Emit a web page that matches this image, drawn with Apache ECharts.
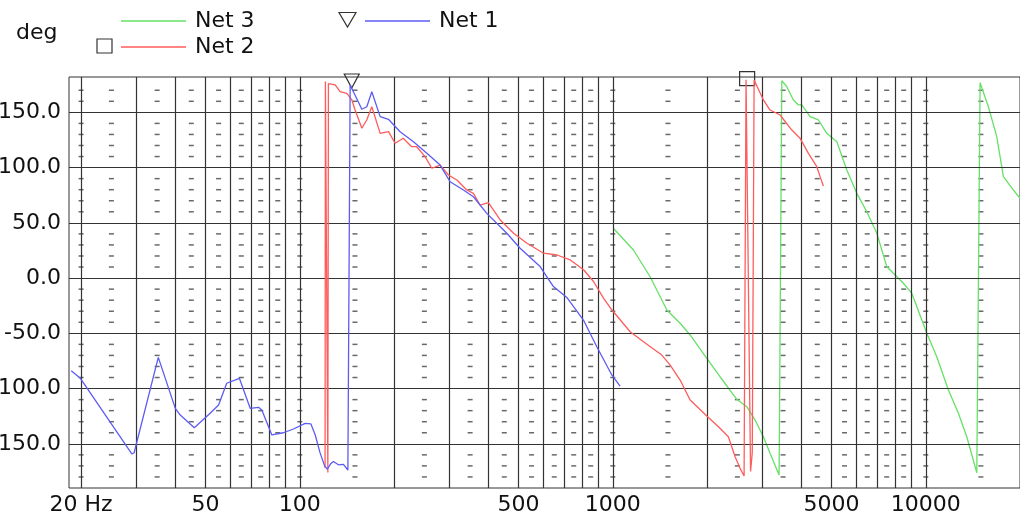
<!DOCTYPE html>
<html><head><meta charset="utf-8">
<script src="https://cdn.jsdelivr.net/npm/echarts@6/dist/echarts.min.js"></script>
<style>html,body{margin:0;padding:0;background:#fff}#c{width:1020px;height:522px}</style>
</head><body><div id="c"></div>
<script>
// ---- data ----
const net1Freq = [18.6,19.9,29.05,29.55,35.3,40,41.5,46,51.7,55,58.4,64.1,69.4,73.8,75.6,81.4,88.6,95.4,104,108.5,112,116,120,122.5,125.5,128,132.8,137.8,142.4,143.2,144.8,148.3,157.8,163.7,169.8,180.6,191.9,209.1,230.7,254.6,280.7,302.1,333.2,358.6,395.7,458.5,505.6,585.7,646,712.8,805.7,889,992.7,1055];
const net1Deg  = [-83.8,-90.7,-159.2,-158.1,-71.8,-117.9,-124,-135.5,-122.4,-114.9,-95.2,-90.7,-117.9,-117,-119.4,-142,-140,-136.6,-131.5,-132,-142,-158,-170,-173,-168,-166,-169,-168.6,-173.7,-174,174.8,168.7,152.8,155.1,168.7,146.1,143.7,132.5,123.4,112.9,102.3,87.2,79.7,73.6,58.6,40.6,27,10.4,-7.7,-17.5,-38,-62.1,-87.7,-97.7];

const net2Freq = [120.4,120.7,121.8,122.9,123.4,129.7,134.5,141.3,146.6,150.2,157.8,163.6,169.8,180.6,192,201.6,214,227.6,236.3,251.3,264,280.7,298.4,317.5,341.5,358.6,376.7,400.5,436.7,482,531.8,600.5,663.2,731.4,807.7,868.8,934.5,994,1136,1253,1434,1525,1641,1766,1997,2175,2340,2459,2551,2627,2665,2755,2790,2828,3028,3180,3423,3732,3967,4217,4485,4595,4708];
const net2Deg  = [-172,178,179,-176,176,174.8,168.7,167.2,161.2,152.1,135.6,143.1,155.1,131,132.5,122,126.5,118.9,118.9,109.9,99.4,102.3,93.3,88.8,79.7,76.7,66.1,68.2,52.6,40.6,31.5,22.5,20.9,16.4,7.3,-3.3,-18.3,-28.9,-48.6,-57.6,-69.7,-78.8,-92.3,-110.4,-124.9,-134.5,-143.6,-161.7,-172.2,-179.2,179.5,-175,-158,179.3,161.2,152.1,147.6,134,126.5,112.9,100.8,91.8,83.3];

const net3Freq = [1004,1164,1316,1488,1641,1766,1997,2201,2490,2680,2849,3028,3180,3399,3467,3597,3776,3917,4017,4270,4539,4828,5196,5593,6020,6479,6976,7508,7879,8481,9022,10074,10842,11809,12712,13521,14555,14913,15849,16857,17700,19055,20000];
const net3Deg  = [45.1,25.4,1.2,-28.9,-40.9,-51.5,-72.6,-89.3,-109.7,-116.4,-128.5,-143.6,-158.6,-178.2,178.7,173.2,161.2,156.7,156.7,146.1,143.1,131,123.5,97.8,76.7,60.1,40.5,10.3,4.3,-4.7,-13.8,-50,-71.2,-101.3,-122.4,-143.6,-176.2,176.8,155.1,128,91.8,79.7,72.2];

// cursor markers [freq, deg]
const net1Marker = [146.5, 178.4];
const net2Marker = [2686, 180.6];

// axis ticks / grid
const freqGrid = [20,30,40,50,60,70,80,90,100,200,300,400,500,600,700,800,900,1000,2000,3000,4000,5000,6000,7000,8000,9000,10000];
const freqLabels = [20,50,100,500,1000,5000,10000];
const freqLabelText = ['20 Hz','50','100','500','1000','5000','10000'];
const degGrid = [-150,-100,-50,0,50,100,150];
const dashCols = [20,25,35,45,55,65,75,85,100,150,250,350,450,550,650,750,850,1000,1500,2500,3500,4500,5500,6500,7500,8500,10000,15000];
const dashRows = [-180,-170,-160,-140,-130,-120,-110,-90,-80,-70,-60,-40,-30,-20,-10,10,20,30,40,60,70,80,90,110,120,130,140,160,170];

// ---- build ----
const FONT = 'DejaVu Sans';
const zip = (a, b) => a.map((v, i) => [v, b[i]]);
const dashData = [];
dashCols.forEach(c => dashRows.forEach(r => dashData.push([c, r])));

const labelStyle = { show: true, position: 'start', distance: 6, fontFamily: FONT, fontSize: 22, color: '#111' };
const lineItems = freqGrid.map(f => {
  const i = freqLabels.indexOf(f);
  return i < 0 ? { xAxis: f } : { xAxis: f, label: Object.assign({ formatter: freqLabelText[i] }, labelStyle) };
}).concat(degGrid.map(d => ({ yAxis: d })));

const legendText = { fontFamily: FONT, fontSize: 22, color: '#111', padding: [0, 0, 0, 4] };
const mkLegend = (name, left, top) => ({
  data: [name], left: left, top: top, icon: 'rect', itemWidth: 65, itemHeight: 1.6, padding: 0,
  selectedMode: false, textStyle: legendText
});

const chart = echarts.init(document.getElementById('c'), null, { renderer: 'canvas' });
chart.setOption({
  animation: false,
  backgroundColor: '#fff',
  grid: { left: 69, top: 77, right: 0, height: 411, show: true, borderColor: '#333', borderWidth: 1, outerBoundsMode: 'none' },
  legend: [mkLegend('Net 3', 121, 10), mkLegend('Net 2', 121, 36), mkLegend('Net 1', 365, 10)],
  graphic: [
    { type: 'text', left: 16, top: 22, style: { text: 'deg', fontFamily: FONT, fontSize: 22, fill: '#111' } },
    { type: 'rect', shape: { x: 97, y: 39, width: 15, height: 14 }, style: { fill: 'none', stroke: '#333', lineWidth: 1.2 } },
    { type: 'polygon', shape: { points: [[339, 12.5], [356, 12.5], [347.5, 27]] }, style: { fill: 'none', stroke: '#333', lineWidth: 1.2 } }
  ],
  xAxis: {
    type: 'log', logBase: 10, min: 18.3, max: 20000,
    axisLine: { show: false }, axisTick: { show: false }, axisLabel: { show: false }, splitLine: { show: false }
  },
  yAxis: {
    type: 'value', min: -190, max: 182, interval: 10,
    axisLine: { show: false }, axisTick: { show: false }, splitLine: { show: false },
    axisLabel: {
      margin: 8, fontFamily: FONT, fontSize: 22, color: '#111',
      formatter: v => (v % 50 === 0 && v >= -150 && v <= 150) ? v.toFixed(1) : ''
    }
  },
  series: [
    {
      name: 'grid', type: 'scatter', data: dashData, symbol: 'rect', symbolSize: [5, 1.5],
      itemStyle: { color: '#444' }, silent: true, z: 1,
      markLine: {
        silent: true, symbol: ['none', 'none'], animation: false,
        lineStyle: { color: '#333', width: 1.2, type: 'solid' },
        label: { show: false }, emphasis: { disabled: true },
        data: lineItems
      }
    },
    {
      name: 'Net 3', type: 'line', data: zip(net3Freq, net3Deg), symbol: 'none',
      lineStyle: { color: '#66e066', width: 1.3 }, itemStyle: { color: '#66e066' }, z: 4
    },
    {
      name: 'Net 2', type: 'line', data: zip(net2Freq, net2Deg), symbol: 'none',
      lineStyle: { color: '#ff5c5c', width: 1.3 }, itemStyle: { color: '#ff5c5c' }, z: 5,
      markPoint: {
        silent: true, symbol: 'rect', symbolSize: [15, 14], label: { show: false },
        itemStyle: { color: 'rgba(255,255,255,0)', borderColor: '#333', borderWidth: 1.2 },
        data: [{ coord: net2Marker }]
      }
    },
    {
      name: 'Net 1', type: 'line', data: zip(net1Freq, net1Deg), symbol: 'none',
      lineStyle: { color: '#5c5cf5', width: 1.3 }, itemStyle: { color: '#5c5cf5' }, z: 6,
      markPoint: {
        silent: true, symbol: 'triangle', symbolRotate: 180, symbolSize: [15, 14], label: { show: false },
        itemStyle: { color: 'rgba(255,255,255,0)', borderColor: '#333', borderWidth: 1.2 },
        data: [{ coord: net1Marker }]
      }
    }
  ]
});
</script></body></html>
